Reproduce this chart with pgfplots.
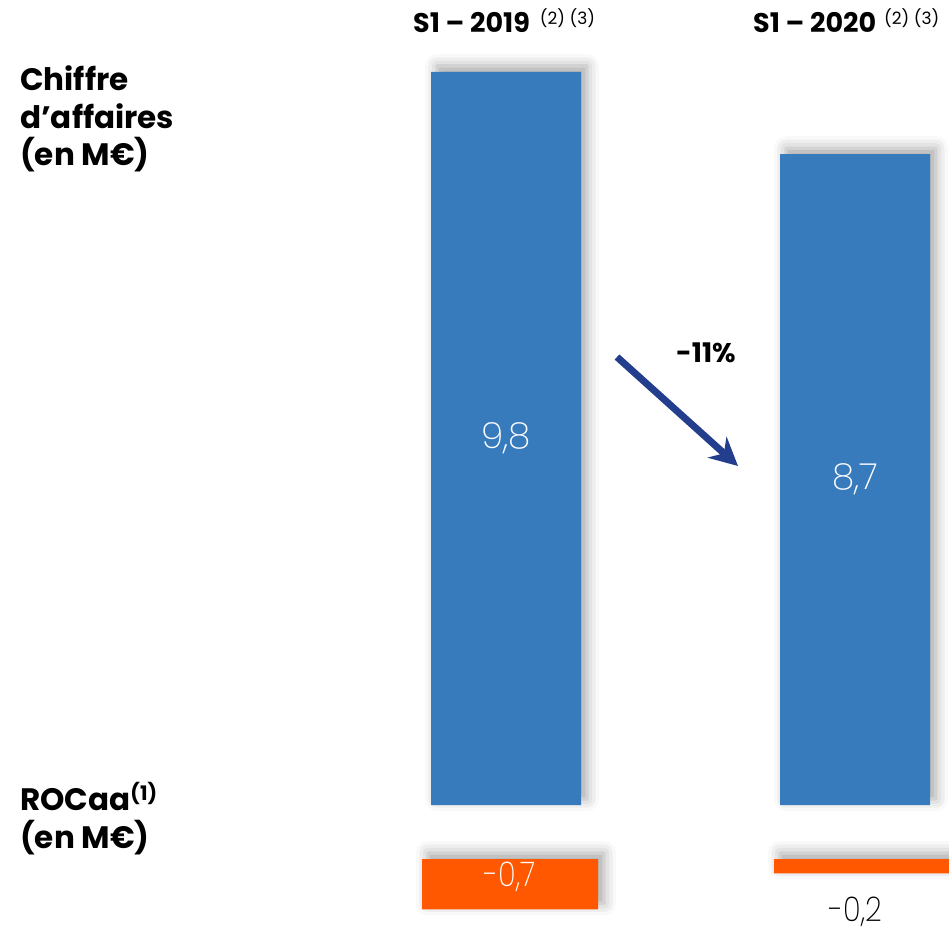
\documentclass[border=0pt]{standalone}
\usepackage{fontspec}
\setmainfont{Poppins}
\IfFontExistsTF{Poppins ExtraLight}{\newfontfamily\thinfont{Poppins ExtraLight}}{%
  \IfFontExistsTF{Poppins Light}{\newfontfamily\thinfont{Poppins Light}}{\newfontfamily\thinfont{Poppins}}}
\usepackage{pgfplots}
\pgfplotsset{compat=1.18}
\usetikzlibrary{arrows.meta,shadows.blur}
\definecolor{cablue}{RGB}{56,123,189}
\definecolor{caorange}{RGB}{255,88,0}
\definecolor{arrowblue}{RGB}{35,62,140}
\newcommand{\narrow}[1]{\scalebox{0.86}[1]{#1}}
\begin{document}
\begin{tikzpicture}
\path[use as bounding box] (0pt,0pt) rectangle (949pt,930pt);
% Blue bars: Chiffre d'affaires
\begin{axis}[
  at={(331.5pt,125pt)}, anchor=south west,
  scale only axis, hide axis, clip=false,
  width=698pt, height=748pt,
  xmin=-0.5, xmax=1.5, ymin=0, ymax=10,
  ybar, bar width=150pt, bar shift=0pt,
]
\addplot[fill=cablue, draw=none,
  blur shadow={shadow xshift=6pt, shadow yshift=6pt, shadow blur radius=12pt, shadow opacity=35}]
  coordinates {(0,9.8) (1,8.7)};
\node[text=white, font=\thinfont\fontsize{36}{40}\selectfont] at (axis cs:0,4.9) {9,8};
\node[text=white, font=\thinfont\fontsize{36}{40}\selectfont] at (axis cs:1,4.35) {8,7};
\end{axis}
% Orange bars: ROCaa
\begin{axis}[
  at={(334pt,-1pt)}, anchor=south west,
  scale only axis, hide axis, clip=false,
  width=704pt, height=72pt,
  xmin=-0.5, xmax=1.5, ymin=-1, ymax=0,
  ybar, bar width=176pt, bar shift=0pt,
]
\addplot[fill=caorange, draw=none,
  blur shadow={shadow xshift=6pt, shadow yshift=6pt, shadow blur radius=12pt, shadow opacity=35}]
  coordinates {(0,-0.7) (1,-0.2)};
\node[text=white, font=\thinfont\fontsize{34}{40}\selectfont, anchor=base] at (axis cs:0,-0.375) {\narrow{-0,7}};
\node[text=black, inner sep=0pt, font=\thinfont\fontsize{34}{40}\selectfont, anchor=base] at (axis cs:0.983,-0.87) {\narrow{-0,2}};
\end{axis}
\begin{scope}[x=1pt,y=1pt]
% Headers
\node[anchor=base west, inner sep=0pt, font=\bfseries\fontsize{27}{32}\selectfont] at (413,897)
  {S1 – 2019\hspace{10pt}\raisebox{8pt}{\mdseries\fontsize{17}{20}\selectfont(2) (3)}};
\node[anchor=base west, inner sep=0pt, font=\bfseries\fontsize{27}{32}\selectfont] at (753,897)
  {S1 – 2020\hspace{8pt}\raisebox{8pt}{\mdseries\fontsize{17}{20}\selectfont(2) (3)}};
% Left labels
\begin{scope}[every node/.style={anchor=base west, inner sep=0pt, font=\bfseries\fontsize{31}{36}\selectfont}]
\node at (20,839) {Chiffre};
\node at (20,801) {d’affaires};
\node at (20,764) {(en M€)};
\node at (20,120) {ROCaa\raisebox{10pt}{\fontsize{20}{22}\selectfont(1)}};
\node at (20,82) {(en M€)};
\end{scope}
% Arrow and variation
\draw[arrowblue, line width=7pt, -{Stealth[length=28pt,width=28pt]}] (617,573) -- (738,464);
\node[anchor=base west, inner sep=0pt, font=\bfseries\fontsize{27}{32}\selectfont] at (676,567) {-11\%};
\end{scope}
\end{tikzpicture}
\end{document}
